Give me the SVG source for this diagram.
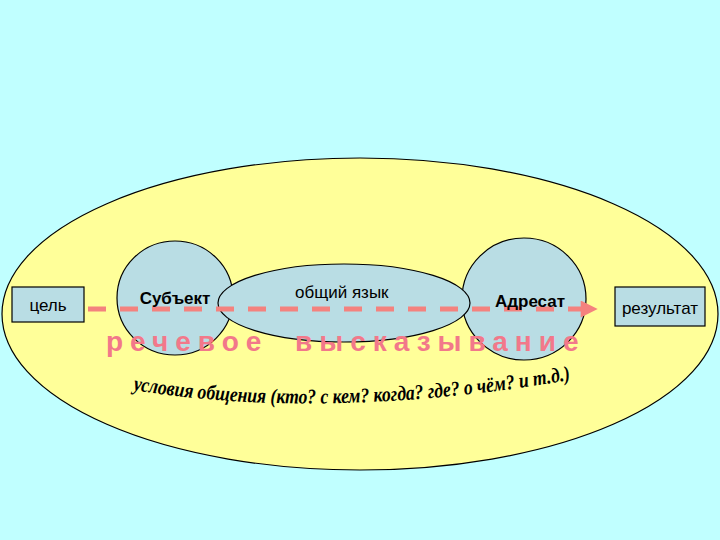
<svg xmlns="http://www.w3.org/2000/svg" width="720" height="540" viewBox="0 0 720 540">
<defs>
<style>
.shape{stroke:#000;stroke-width:1.2}
.blue{fill:#B9DDE4}
.lbl{font-family:"Liberation Sans",Arial,sans-serif;font-size:17px;fill:#000}
.b{font-weight:bold}
.pink{font-family:"Liberation Sans",Arial,sans-serif;font-weight:bold;font-size:28px;fill:#F2788A;letter-spacing:7px}
.cond{font-family:"Liberation Serif","Times New Roman",serif;font-style:italic;font-weight:bold;font-size:21px;fill:#000}
</style>
<marker id="arr" viewBox="0 0 10 10" refX="9" refY="5" markerWidth="4.2" markerHeight="3.4" orient="auto" markerUnits="strokeWidth">
<path d="M0,0 L10,5 L0,10 z" fill="#F4827E"/>
</marker>
<path id="arc" d="M133 390 Q 330 422 582 378"/>
</defs>
<rect width="720" height="540" fill="#C0FFFF"/>
<g id="context">
<ellipse cx="360" cy="314" rx="358" ry="156" fill="#FFFF99" class="shape"/>
</g>
<g id="subject">
<ellipse cx="175" cy="298" rx="58" ry="57" class="shape blue"/>
</g>
<g id="addressee">
<ellipse cx="524" cy="299" rx="62" ry="61" class="shape blue"/>
</g>
<g id="language">
<ellipse cx="344" cy="303" rx="126" ry="39" class="shape blue"/>
<text x="295" y="298" class="lbl">общий язык</text>
</g>
<g id="goal">
<rect x="12" y="287" width="72" height="35" class="shape blue"/>
<text x="48" y="311" text-anchor="middle" class="lbl">цель</text>
</g>
<g id="result">
<rect x="615" y="287" width="90" height="39" class="shape blue"/>
<text x="660" y="314" text-anchor="middle" class="lbl">результат</text>
</g>
<g id="connectors">
<line x1="88" y1="309" x2="596" y2="309" stroke="#F4827E" stroke-width="5" stroke-dasharray="18 14" marker-end="url(#arr)"/>
</g>
<g id="labels">
<text x="175" y="304" text-anchor="middle" class="lbl b">Субъект</text>
<text x="530" y="307" text-anchor="middle" class="lbl b">Адресат</text>
<text x="106" y="351" class="pink">речевое</text>
<text x="295" y="351" class="pink">высказывание</text>
<text class="cond"><textPath href="#arc" textLength="440" lengthAdjust="spacingAndGlyphs">условия общения (кто? с кем? когда? где? о чём? и т.д.)</textPath></text>
</g>
</svg>
